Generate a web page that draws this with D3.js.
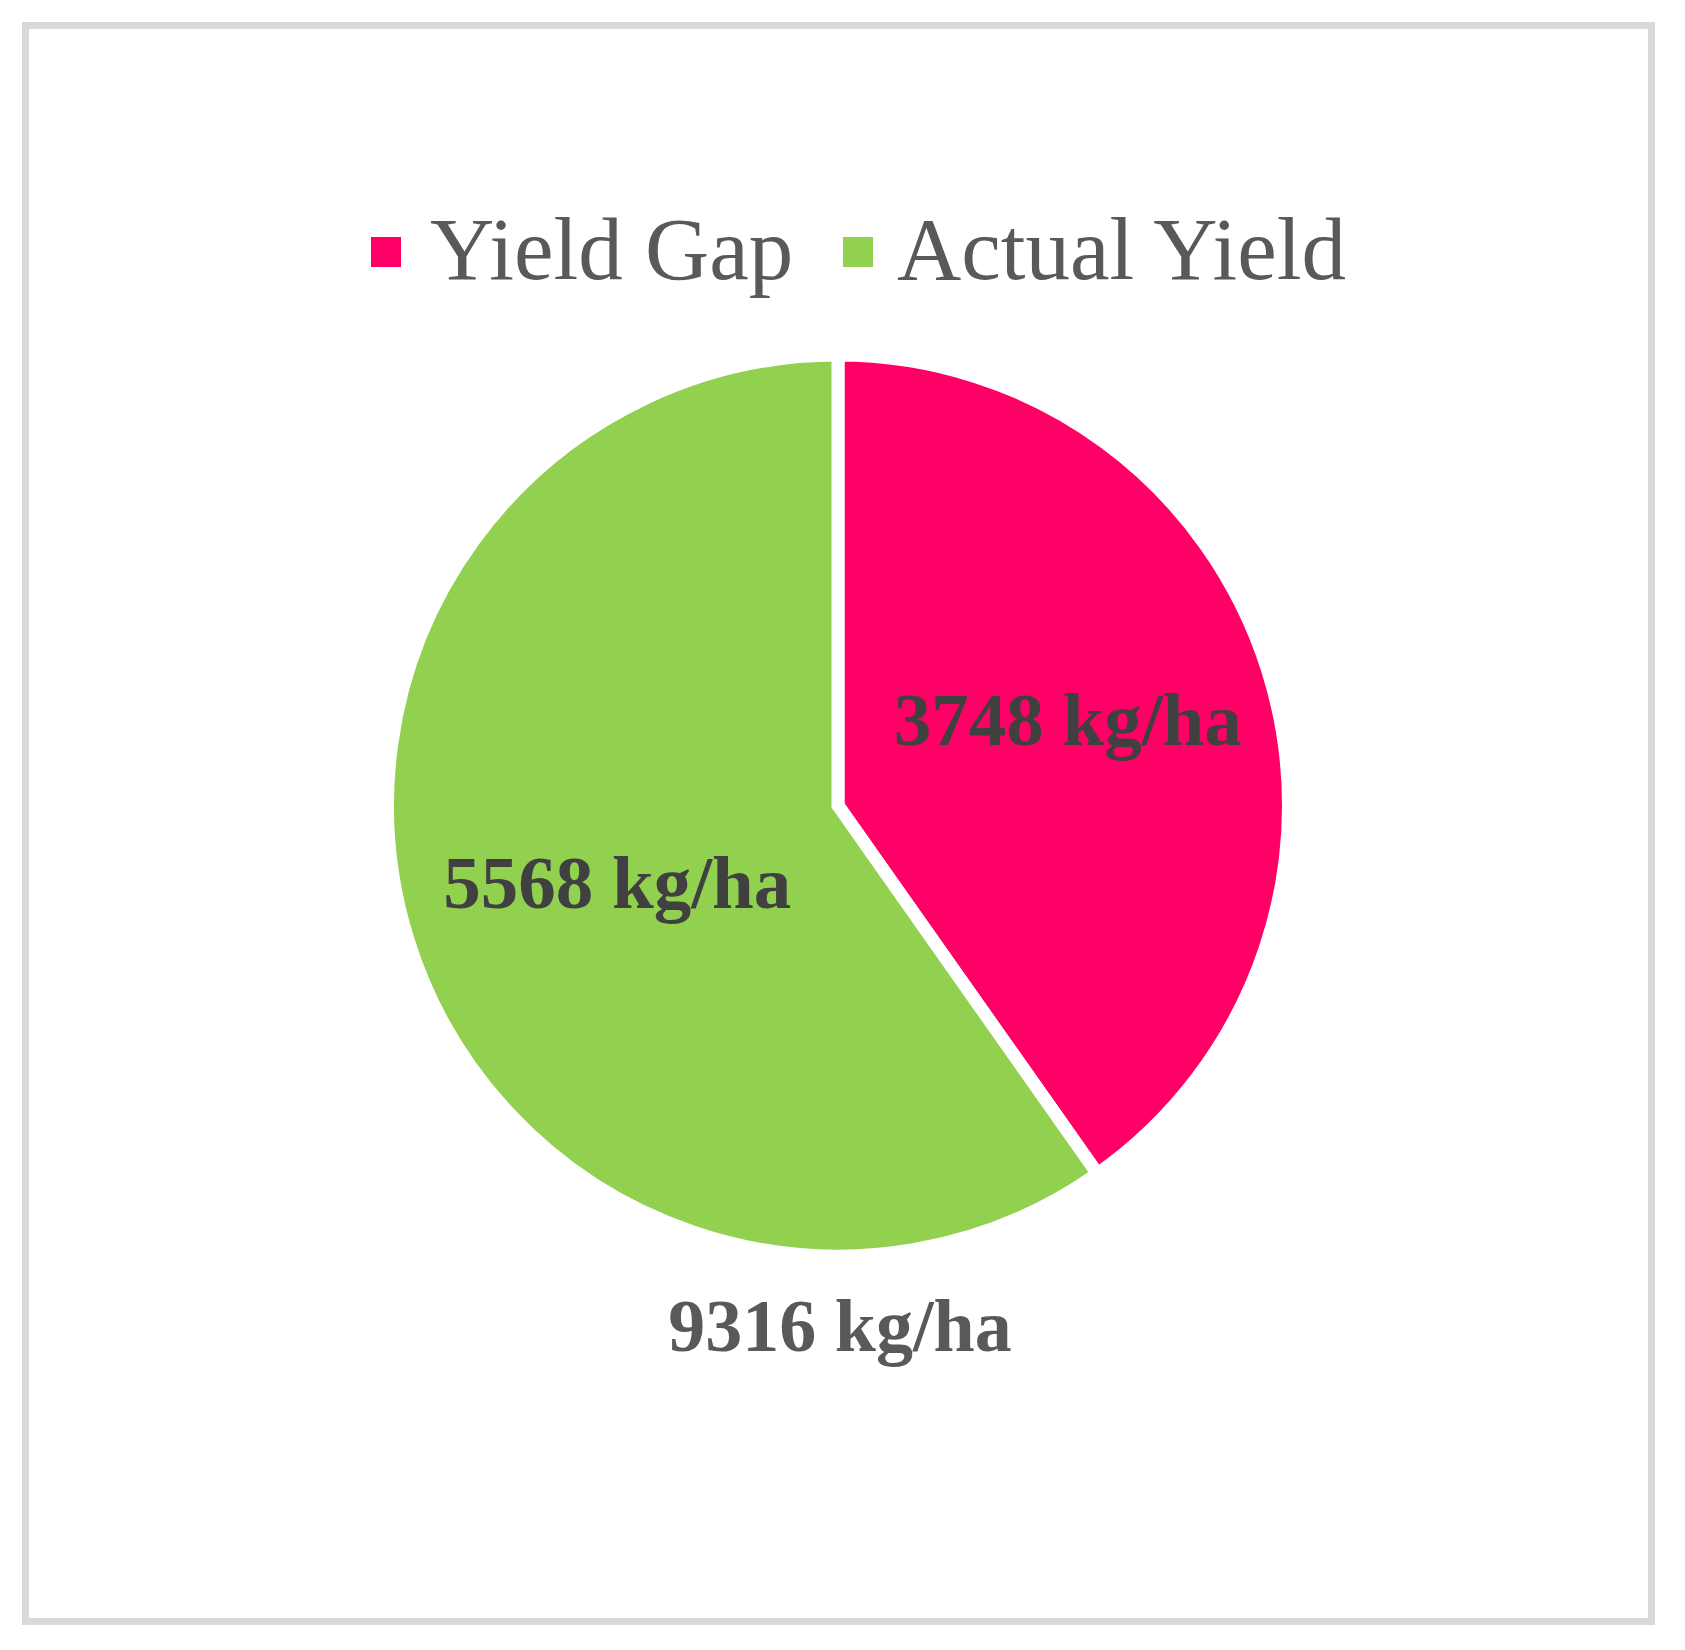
<!DOCTYPE html>
<html>
<head>
<meta charset="utf-8">
<script src="https://cdn.jsdelivr.net/npm/d3@7"></script>
<style>
  html, body { margin: 0; padding: 0; background: #fff; }
  svg { display: block; }
</style>
</head>
<body>
<svg id="chart" width="1685" height="1650"></svg>
<script>
const categories = ["Yield Gap", "Actual Yield"];
const values = [3748, 5568];
const unit = "kg/ha";
const colors = ["#FF0066", "#92D050"];

const W = 1685, H = 1650;
const svg = d3.select("#chart");
const font = "'Liberation Serif', 'Times New Roman', serif";

// chart area border
svg.append("rect")
  .attr("x", 25.5).attr("y", 25.5)
  .attr("width", 1626).attr("height", 1596)
  .attr("fill", "#fff")
  .attr("stroke", "#d9d9d9")
  .attr("stroke-width", 7);

// legend
const legendItems = [
  { sx: 371, tx: 430 },
  { sx: 843, tx: 897 }
];
const legend = svg.append("g");
categories.forEach((c, i) => {
  legend.append("rect")
    .attr("x", legendItems[i].sx).attr("y", 237)
    .attr("width", 30).attr("height", 30)
    .attr("fill", colors[i]);
  legend.append("text")
    .attr("x", legendItems[i].tx).attr("y", 279)
    .attr("font-family", font)
    .attr("font-size", 89)
    .attr("fill", "#595959")
    .text(c);
});

// pie
const cx = 838, cy = 805.5;
const sw = 13;
const R = 444 + sw / 2;

const pie = d3.pie().sort(null).value(d => d)(values);
const arc = d3.arc().innerRadius(0).outerRadius(R);

const g = svg.append("g").attr("transform", `translate(${cx},${cy})`);
g.selectAll("path.slice")
  .data(pie)
  .join("path")
  .attr("class", "slice")
  .attr("d", arc)
  .attr("fill", (d, i) => colors[i])
  .attr("stroke", "#fff")
  .attr("stroke-width", sw)
  .attr("stroke-linejoin", "miter");

// data labels
const labelArc = d3.arc().innerRadius(240).outerRadius(240);
const nudgeY = [-13, 5];
const nudgeX = [1, 8];
g.selectAll("text.lbl")
  .data(pie)
  .join("text")
  .attr("class", "lbl")
  .attr("x", (d, i) => labelArc.centroid(d)[0] + nudgeX[i])
  .attr("y", (d, i) => labelArc.centroid(d)[1] + 25 + nudgeY[i])
  .attr("text-anchor", "middle")
  .attr("font-family", font)
  .attr("font-weight", "bold")
  .attr("font-size", 75)
  .attr("fill", "#404040")
  .text(d => `${d.data} ${unit}`);

// total label
svg.append("text")
  .attr("x", 840).attr("y", 1351)
  .attr("text-anchor", "middle")
  .attr("font-family", font)
  .attr("font-weight", "bold")
  .attr("font-size", 74)
  .attr("fill", "#595959")
  .text(`${d3.sum(values)} ${unit}`);
</script>
</body>
</html>
